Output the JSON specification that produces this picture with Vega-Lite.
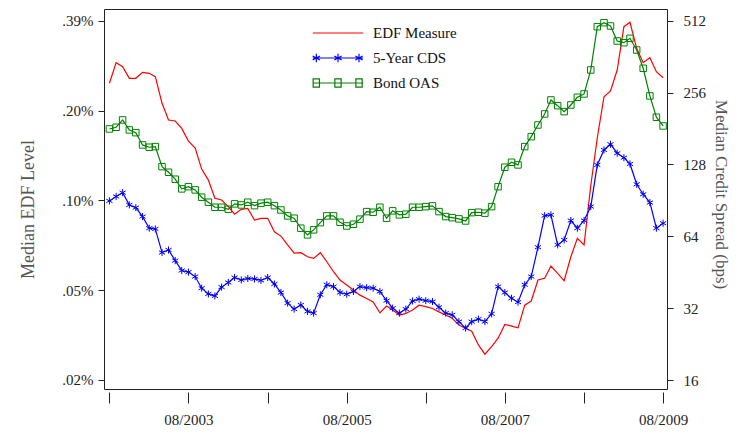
{
  "$schema": "https://vega.github.io/schema/vega-lite/v6.json",
  "width": 563,
  "height": 380,
  "autosize": {"type": "none"},
  "padding": {"left": 104, "top": 9, "right": 72, "bottom": 48},
  "background": "white",
  "config": {
    "view": {"stroke": "#222", "strokeWidth": 1},
    "font": "Liberation Serif",
    "axis": {
      "labelFont": "Liberation Serif",
      "labelFontSize": 15,
      "labelColor": "#222",
      "tickColor": "#222",
      "grid": false,
      "domain": false,
      "titleFont": "Liberation Serif",
      "titleFontWeight": "normal",
      "titleColor": "#555"
    }
  },
  "data": {
    "values": [
      {"d": "2002-08-01", "edf": 0.241, "cds": 90.0, "oas": 180.2},
      {"d": "2002-09-01", "edf": 0.2825, "cds": 94.0, "oas": 183.2},
      {"d": "2002-10-01", "edf": 0.2739, "cds": 97.5, "oas": 196.6},
      {"d": "2002-11-01", "edf": 0.2504, "cds": 86.6, "oas": 178.5},
      {"d": "2002-12-01", "edf": 0.2504, "cds": 84.4, "oas": 173.9},
      {"d": "2003-01-01", "edf": 0.2623, "cds": 77.4, "oas": 154.5},
      {"d": "2003-02-01", "edf": 0.2603, "cds": 69.2, "oas": 151.1},
      {"d": "2003-03-01", "edf": 0.2535, "cds": 68.7, "oas": 152.0},
      {"d": "2003-04-01", "edf": 0.2065, "cds": 54.7, "oas": 125.3},
      {"d": "2003-05-01", "edf": 0.1815, "cds": 56.1, "oas": 118.7},
      {"d": "2003-06-01", "edf": 0.1801, "cds": 50.6, "oas": 111.0},
      {"d": "2003-07-01", "edf": 0.1702, "cds": 46.0, "oas": 101.1},
      {"d": "2003-08-01", "edf": 0.1543, "cds": 45.3, "oas": 103.3},
      {"d": "2003-09-01", "edf": 0.1462, "cds": 43.4, "oas": 100.1},
      {"d": "2003-10-01", "edf": 0.1243, "cds": 38.8, "oas": 93.3},
      {"d": "2003-11-01", "edf": 0.1142, "cds": 36.7, "oas": 88.9},
      {"d": "2003-12-01", "edf": 0.0992, "cds": 36.0, "oas": 84.7},
      {"d": "2004-01-01", "edf": 0.0979, "cds": 39.2, "oas": 84.7},
      {"d": "2004-02-01", "edf": 0.0930, "cds": 41.0, "oas": 83.1},
      {"d": "2004-03-01", "edf": 0.0878, "cds": 43.0, "oas": 87.5},
      {"d": "2004-04-01", "edf": 0.0911, "cds": 42.0, "oas": 86.6},
      {"d": "2004-05-01", "edf": 0.0918, "cds": 42.6, "oas": 88.9},
      {"d": "2004-06-01", "edf": 0.0839, "cds": 42.4, "oas": 86.0},
      {"d": "2004-07-01", "edf": 0.0850, "cds": 41.8, "oas": 88.1},
      {"d": "2004-08-01", "edf": 0.0850, "cds": 43.0, "oas": 88.9},
      {"d": "2004-09-01", "edf": 0.0766, "cds": 40.4, "oas": 86.0},
      {"d": "2004-10-01", "edf": 0.0741, "cds": 37.2, "oas": 82.5},
      {"d": "2004-11-01", "edf": 0.0692, "cds": 33.6, "oas": 77.9},
      {"d": "2004-12-01", "edf": 0.0650, "cds": 31.7, "oas": 76.2},
      {"d": "2005-01-01", "edf": 0.0652, "cds": 33.0, "oas": 69.2},
      {"d": "2005-02-01", "edf": 0.0632, "cds": 31.0, "oas": 64.9},
      {"d": "2005-03-01", "edf": 0.0624, "cds": 30.5, "oas": 68.1},
      {"d": "2005-04-01", "edf": 0.0652, "cds": 36.4, "oas": 73.0},
      {"d": "2005-05-01", "edf": 0.0608, "cds": 40.1, "oas": 77.9},
      {"d": "2005-06-01", "edf": 0.0563, "cds": 39.4, "oas": 77.9},
      {"d": "2005-07-01", "edf": 0.0528, "cds": 37.2, "oas": 73.3},
      {"d": "2005-08-01", "edf": 0.0508, "cds": 36.6, "oas": 70.7},
      {"d": "2005-09-01", "edf": 0.0489, "cds": 37.6, "oas": 71.9},
      {"d": "2005-10-01", "edf": 0.0470, "cds": 39.4, "oas": 75.5},
      {"d": "2005-11-01", "edf": 0.0458, "cds": 39.0, "oas": 81.2},
      {"d": "2005-12-01", "edf": 0.0446, "cds": 38.8, "oas": 80.7},
      {"d": "2006-01-01", "edf": 0.0410, "cds": 37.6, "oas": 84.7},
      {"d": "2006-02-01", "edf": 0.0432, "cds": 34.4, "oas": 76.2},
      {"d": "2006-03-01", "edf": 0.0419, "cds": 32.0, "oas": 81.8},
      {"d": "2006-04-01", "edf": 0.0403, "cds": 30.5, "oas": 78.7},
      {"d": "2006-05-01", "edf": 0.0408, "cds": 31.7, "oas": 79.2},
      {"d": "2006-06-01", "edf": 0.0419, "cds": 34.3, "oas": 84.7},
      {"d": "2006-07-01", "edf": 0.0435, "cds": 34.9, "oas": 84.7},
      {"d": "2006-08-01", "edf": 0.0430, "cds": 34.4, "oas": 85.2},
      {"d": "2006-09-01", "edf": 0.0424, "cds": 34.1, "oas": 85.8},
      {"d": "2006-10-01", "edf": 0.0413, "cds": 32.3, "oas": 81.2},
      {"d": "2006-11-01", "edf": 0.0403, "cds": 30.5, "oas": 77.4},
      {"d": "2006-12-01", "edf": 0.0393, "cds": 30.0, "oas": 76.6},
      {"d": "2007-01-01", "edf": 0.0373, "cds": 28.1, "oas": 75.7},
      {"d": "2007-02-01", "edf": 0.0364, "cds": 26.4, "oas": 74.2},
      {"d": "2007-03-01", "edf": 0.0356, "cds": 28.1, "oas": 80.4},
      {"d": "2007-04-01", "edf": 0.0320, "cds": 28.8, "oas": 80.7},
      {"d": "2007-05-01", "edf": 0.0298, "cds": 28.1, "oas": 80.0},
      {"d": "2007-06-01", "edf": 0.0316, "cds": 30.3, "oas": 85.2},
      {"d": "2007-07-01", "edf": 0.0337, "cds": 39.4, "oas": 103.3},
      {"d": "2007-08-01", "edf": 0.0375, "cds": 37.2, "oas": 124.6},
      {"d": "2007-09-01", "edf": 0.0370, "cds": 35.2, "oas": 130.7},
      {"d": "2007-10-01", "edf": 0.0365, "cds": 33.9, "oas": 127.4},
      {"d": "2007-11-01", "edf": 0.0435, "cds": 40.1, "oas": 152.0},
      {"d": "2007-12-01", "edf": 0.0449, "cds": 43.4, "oas": 167.3},
      {"d": "2008-01-01", "edf": 0.0528, "cds": 57.6, "oas": 187.3},
      {"d": "2008-02-01", "edf": 0.0535, "cds": 78.1, "oas": 208.3},
      {"d": "2008-03-01", "edf": 0.0588, "cds": 78.7, "oas": 238.4},
      {"d": "2008-04-01", "edf": 0.0556, "cds": 58.9, "oas": 225.6},
      {"d": "2008-05-01", "edf": 0.0525, "cds": 61.8, "oas": 213.0},
      {"d": "2008-06-01", "edf": 0.0632, "cds": 74.5, "oas": 227.1},
      {"d": "2008-07-01", "edf": 0.0728, "cds": 69.2, "oas": 244.6},
      {"d": "2008-08-01", "edf": 0.0692, "cds": 74.5, "oas": 252.6},
      {"d": "2008-09-01", "edf": 0.1095, "cds": 85.2, "oas": 318.4},
      {"d": "2008-10-01", "edf": 0.158, "cds": 127.4, "oas": 483.2},
      {"d": "2008-11-01", "edf": 0.2173, "cds": 147.2, "oas": 502.2},
      {"d": "2008-12-01", "edf": 0.2271, "cds": 155.5, "oas": 486.5},
      {"d": "2009-01-01", "edf": 0.2670, "cds": 142.6, "oas": 421.0},
      {"d": "2009-02-01", "edf": 0.3731, "cds": 136.6, "oas": 414.2},
      {"d": "2009-03-01", "edf": 0.3858, "cds": 128.6, "oas": 432.1},
      {"d": "2009-04-01", "edf": 0.3157, "cds": 105.7, "oas": 386.0},
      {"d": "2009-05-01", "edf": 0.2825, "cds": 96.0, "oas": 323.6},
      {"d": "2009-06-01", "edf": 0.2936, "cds": 88.6, "oas": 247.8},
      {"d": "2009-07-01", "edf": 0.2635, "cds": 69.2, "oas": 201.8},
      {"d": "2009-08-01", "edf": 0.2516, "cds": 72.6, "oas": 185.5}
    ]
  },
  "encoding": {
    "x": {
      "field": "d",
      "type": "temporal",
      "scale": {
        "type": "utc",
        "domain": [
          {"year": 2002, "month": 7, "date": 7, "utc": true},
          {"year": 2009, "month": 8, "date": 19, "utc": true}
        ],
        "nice": false
      },
      "axis": {
        "title": null,
        "values": [
          {"year": 2002, "month": 8, "date": 1, "utc": true},
          {"year": 2003, "month": 8, "date": 1, "utc": true},
          {"year": 2004, "month": 8, "date": 1, "utc": true},
          {"year": 2005, "month": 8, "date": 1, "utc": true},
          {"year": 2006, "month": 8, "date": 1, "utc": true},
          {"year": 2007, "month": 8, "date": 1, "utc": true},
          {"year": 2008, "month": 8, "date": 1, "utc": true},
          {"year": 2009, "month": 8, "date": 1, "utc": true}
        ],
        "labelExpr": "utcyear(datum.value) % 2 == 1 ? utcFormat(datum.value, '%m/%Y') : ''",
        "tickSize": 11,
        "offset": 3,
        "labelPadding": 9,
        "labelFlush": false,
        "labelOverlap": false
      }
    }
  },
  "layer": [
    {
      "mark": {"type": "line", "strokeWidth": 1.2},
      "encoding": {
        "y": {
          "field": "edf",
          "type": "quantitative",
          "scale": {"type": "log", "base": 2, "domain": [0.022776, 0.4275], "nice": false, "zero": false},
          "axis": {
            "orient": "left",
            "title": "Median EDF Level",
            "values": [0.0244140625, 0.048828125, 0.09765625, 0.1953125, 0.390625],
            "labelExpr": "replace(format(datum.value, '.2f'), '0.', '.') + '%'",
            "tickSize": 6,
            "labelPadding": 5,
            "titleAngle": 270,
            "titleX": -76,
            "titleY": 200,
            "titleFontSize": 18,
            "titleAlign": "center",
            "titleBaseline": "middle"
          }
        },
        "color": {
          "datum": "EDF Measure",
          "type": "nominal",
          "scale": {"domain": ["EDF Measure", "5-Year CDS", "Bond OAS"], "range": ["#ff0000", "#0000ff", "#008000"]},
          "legend": {
            "title": null,
            "orient": "none",
            "legendX": 208,
            "legendY": 16,
            "padding": 0,
            "symbolSize": 196,
            "symbolOffset": 18,
            "symbolStrokeWidth": 1.2,
            "labelOffset": 27,
            "labelFont": "Liberation Serif",
            "labelFontSize": 15,
            "labelColor": "#111",
            "rowPadding": 9,
            "encode": {
              "symbols": {
                "update": {
                  "shape": [
                    {"test": "datum.value === 'EDF Measure'", "value": "M-3.6,0H3.6"},
                    {"test": "datum.value === '5-Year CDS'", "value": "M-3.6,0H3.6M-3.1,-0.6V0.6M-3.62,-0.3L-2.58,0.3M-3.62,0.3L-2.58,-0.3M0,-0.6V0.6M-0.52,-0.3L0.52,0.3M-0.52,0.3L0.52,-0.3M3,-0.6V0.6M2.48,-0.3L3.52,0.3M2.48,0.3L3.52,-0.3"},
                    {"value": "M-3.6,0H3.6M-3.55,-0.6H-2.65V0.6H-3.55ZM-0.45,-0.6H0.45V0.6H-0.45ZM2.55,-0.6H3.45V0.6H2.55Z"}
                  ],
                  "fill": {"value": "transparent"},
                  "strokeWidth": {"value": 1.2},
                  "opacity": {"value": 1}
                }
              }
            }
          }
        }
      }
    },
    {
      "layer": [
        {
          "mark": {"type": "line", "strokeWidth": 1.2, "color": "#0000ff"},
          "encoding": {
            "y": {
              "field": "cds",
              "type": "quantitative",
              "scale": {"type": "log", "base": 2, "domain": [14.67, 573.2], "nice": false, "zero": false},
              "axis": {
                "orient": "right",
                "title": "Median Credit Spread (bps)",
                "values": [16, 32, 64, 128, 256, 512],
                "format": "d",
                "tickSize": 6,
                "labelPadding": 10,
                "titleAngle": 90,
                "titleX": 53,
                "titleY": 185,
                "titleFontSize": 17,
                "titleAlign": "center",
                "titleBaseline": "middle"
              }
            }
          }
        },
        {
          "mark": {"type": "point", "shape": "M0,-1V1M-0.87,-0.5L0.87,0.5M-0.87,0.5L0.87,-0.5", "size": 50, "filled": false, "color": "#0000ff", "strokeWidth": 1, "opacity": 1},
          "encoding": {
            "y": {
              "field": "cds",
              "type": "quantitative",
              "scale": {"type": "log", "base": 2, "domain": [14.67, 573.2], "nice": false, "zero": false},
              "axis": {
                "orient": "right",
                "title": "Median Credit Spread (bps)",
                "values": [16, 32, 64, 128, 256, 512],
                "format": "d",
                "tickSize": 6,
                "labelPadding": 10,
                "titleAngle": 90,
                "titleX": 53,
                "titleY": 185,
                "titleFontSize": 17,
                "titleAlign": "center",
                "titleBaseline": "middle"
              }
            }
          }
        },
        {
          "mark": {"type": "line", "strokeWidth": 1.2, "color": "#008000"},
          "encoding": {
            "y": {
              "field": "oas",
              "type": "quantitative",
              "scale": {"type": "log", "base": 2, "domain": [14.67, 573.2], "nice": false, "zero": false},
              "axis": {
                "orient": "right",
                "title": "Median Credit Spread (bps)",
                "values": [16, 32, 64, 128, 256, 512],
                "format": "d",
                "tickSize": 6,
                "labelPadding": 10,
                "titleAngle": 90,
                "titleX": 53,
                "titleY": 185,
                "titleFontSize": 17,
                "titleAlign": "center",
                "titleBaseline": "middle"
              }
            }
          }
        },
        {
          "mark": {"type": "point", "shape": "square", "size": 42, "filled": false, "color": "#008000", "strokeWidth": 1, "opacity": 1},
          "encoding": {
            "y": {
              "field": "oas",
              "type": "quantitative",
              "scale": {"type": "log", "base": 2, "domain": [14.67, 573.2], "nice": false, "zero": false},
              "axis": {
                "orient": "right",
                "title": "Median Credit Spread (bps)",
                "values": [16, 32, 64, 128, 256, 512],
                "format": "d",
                "tickSize": 6,
                "labelPadding": 10,
                "titleAngle": 90,
                "titleX": 53,
                "titleY": 185,
                "titleFontSize": 17,
                "titleAlign": "center",
                "titleBaseline": "middle"
              }
            }
          }
        }
      ]
    }
  ],
  "resolve": {"scale": {"y": "independent"}}
}
